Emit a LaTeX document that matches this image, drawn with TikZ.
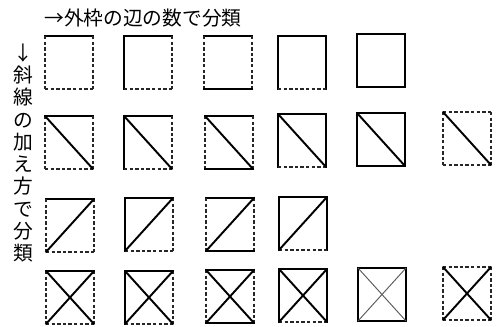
\documentclass[tikz,border=0pt]{standalone}
\usepackage{fontspec}
\newfontfamily\jpfont{Noto Sans CJK JP}
\tikzset{
  edgeS/.style={line width=1.7pt, line cap=rect, black},
  edgeD/.style={line width=1.15pt, dash pattern=on 2.6pt off 1.6pt, black!85},
  diagline/.style={line width=1.45pt, line cap=round, black},
  thindiag/.style={line width=0.7pt, black!65},
  lbl/.style={font=\jpfont\fontsize{14.8pt}{16.7pt}\selectfont, inner sep=0pt}
}
% #1 x, #2 y, #3 top, #4 left, #5 right, #6 bottom (edgeS / edgeD)
\newcommand\frbox[6]{%
  \draw[#3] (#1,#2) -- (#1+48,#2);
  \draw[#4] (#1,#2) -- (#1,#2+53);
  \draw[#5] (#1+48,#2) -- (#1+48,#2+53);
  \draw[#6] (#1,#2+53) -- (#1+48,#2+53);
}
\newcommand\dgdown[3][diagline]{\draw[#1] (#2,#3) -- (#2+48,#3+53);}
\newcommand\dgup[3][diagline]{\draw[#1] (#2,#3+53) -- (#2+48,#3);}
\begin{document}
\begin{tikzpicture}[x=0.75pt,y=-0.75pt]
\useasboundingbox (0,0) rectangle (503,327);
\fill[white] (0,0) rectangle (503,327);
% labels
\node[lbl, anchor=west] (title) at (44,18) {→外枠の辺の数で分類};
\node[lbl, align=center] (vlabel) at (23,153) {↓\\斜\\線\\の\\加\\え\\方\\で\\分\\類};
% row 1
\frbox{45}{36}{edgeS}{edgeD}{edgeD}{edgeD}
\frbox{124}{36}{edgeS}{edgeS}{edgeD}{edgeD}
\frbox{204}{36}{edgeS}{edgeD}{edgeD}{edgeS}
\frbox{278}{36}{edgeS}{edgeS}{edgeS}{edgeD}
\frbox{357}{34}{edgeS}{edgeS}{edgeS}{edgeS}
% row 2
\frbox{45}{116}{edgeS}{edgeD}{edgeD}{edgeD}\dgdown{45}{116}
\frbox{124}{116}{edgeS}{edgeS}{edgeD}{edgeD}\dgdown{124}{116}
\frbox{205}{116}{edgeS}{edgeD}{edgeD}{edgeS}\dgdown{205}{116}
\frbox{278}{114}{edgeS}{edgeS}{edgeS}{edgeD}\dgdown{278}{114}
\frbox{357}{113}{edgeS}{edgeS}{edgeS}{edgeS}\dgdown{357}{113}
\frbox{443}{112}{edgeD}{edgeD}{edgeD}{edgeD}\dgdown{443}{112}
% row 3
\frbox{46}{199}{edgeS}{edgeD}{edgeD}{edgeD}\dgup{46}{199}
\frbox{125}{198}{edgeS}{edgeS}{edgeD}{edgeD}\dgup{125}{198}
\frbox{206}{198}{edgeS}{edgeD}{edgeD}{edgeS}\dgup{206}{198}
\frbox{279}{197}{edgeS}{edgeS}{edgeS}{edgeD}\dgup{279}{197}
% row 4
\frbox{46}{271}{edgeS}{edgeD}{edgeD}{edgeD}\dgdown{46}{271}\dgup{46}{271}
\frbox{125}{271}{edgeS}{edgeS}{edgeD}{edgeD}\dgdown{125}{271}\dgup{125}{271}
\frbox{206}{270}{edgeS}{edgeD}{edgeD}{edgeS}\dgdown{206}{270}\dgup{206}{270}
\frbox{279}{269}{edgeS}{edgeS}{edgeS}{edgeD}\dgdown{279}{269}\dgup{279}{269}
\frbox{358}{268}{edgeS}{edgeS}{edgeS}{edgeS}\dgdown[thindiag]{358}{268}\dgup[thindiag]{358}{268}
\frbox{443}{267}{edgeD}{edgeD}{edgeD}{edgeD}\dgdown{443}{267}\dgup{443}{267}
\end{tikzpicture}
\end{document}
